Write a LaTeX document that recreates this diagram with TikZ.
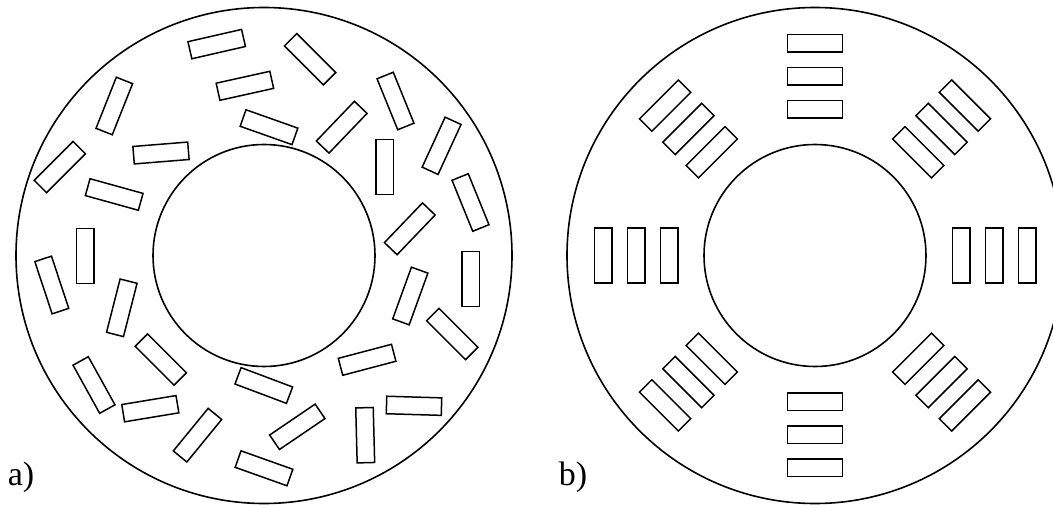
\documentclass[tikz,border=0pt]{standalone}
\usepackage{fontspec}
\setmainfont{Liberation Serif}
\usetikzlibrary{calc}
\begin{document}
\begin{tikzpicture}[x=1pt,y=-1pt,line width=1.6pt,
  ring/.style={line width=1.6pt},
  bar/.pic={\draw[line width=1.5pt,rotate=-#1] (-27.5,-8.75) rectangle (27.5,8.75);},
  lbl/.style={font=\fontsize{34}{34}\selectfont,anchor=base west,inner sep=0pt}]
\useasboundingbox (0,0) rectangle (1053,505);
\clip (0,0) rectangle (1053,505);
% ---------- panel a ----------
\coordinate (A) at (264,255.5);
\draw[ring] (A) circle[radius=248];
\draw[ring] (A) circle[radius=111];
\foreach \x/\y/\a in {
  216.7/44.1/-12.9, 244.9/85.8/-12.5, 269/127.2/19.5, 114.3/106/-68.3,
  161/153/-4.6, 59.8/167.1/-45, 114.2/194.5/15.5, 85.2/255.8/90,
  51.8/285/71.7, 121.8/307.8/-75.7, 160.8/359.6/45, 94/385/61,
  150.3/408.7/-9.4, 197.5/435.2/-50.7, 263.8/385.5/20.6, 264/468.3/19.6,
  310.1/59.2/45, 395.5/101/67.9, 341.7/127.2/-46.2, 384.8/166.8/90,
  441.6/145.8/-65.3, 470.5/202.5/67.9, 409.8/228.8/-46.2, 470.5/279.2/90,
  410.3/296/-70.1, 452.3/334/45, 367.1/359.8/-14.8, 297.3/426.8/-34.2,
  365.2/435.2/88.5, 414/405.8/1.7}
  \pic at (\x,\y) {bar=\a};
\node[lbl] (la) at (7,485) {a)};
% ---------- panel b ----------
\coordinate (B) at (815,255.5);
\draw[ring] (B) circle[radius=248];
\draw[ring] (B) circle[radius=111];
\foreach \p in {0,45,...,315}
  \foreach \d in {146,179,212}
    \pic at ($(B)+(\p:\d)$) {bar=\p+90};
\node[lbl] (lb) at (558,485) {b)};
\end{tikzpicture}
\end{document}
